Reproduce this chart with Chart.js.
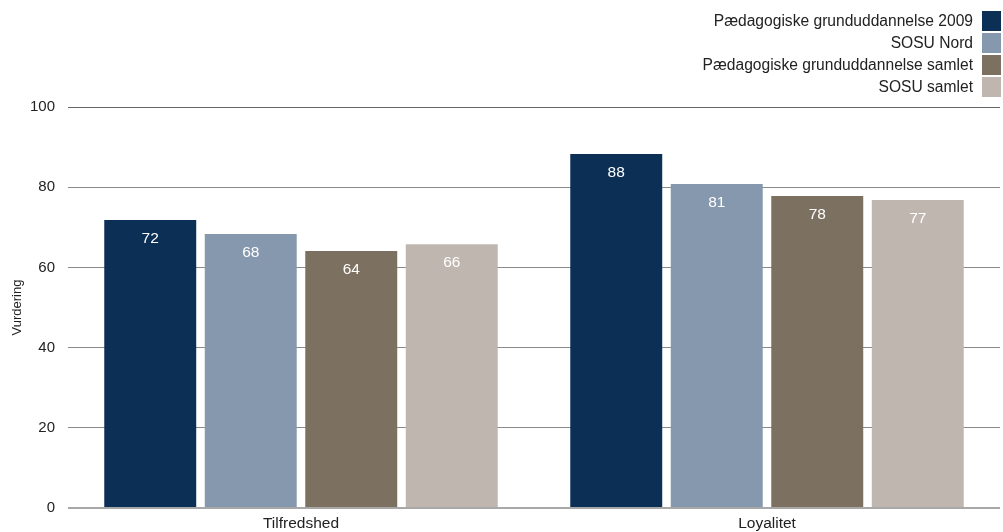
<!DOCTYPE html>
<html><head><meta charset="utf-8">
<script src="https://cdn.jsdelivr.net/npm/chart.js@4.4.1/dist/chart.umd.min.js"></script>
<style>html,body{margin:0;padding:0;background:#fff}#wrap{width:1003px;height:532px}</style>
</head><body><div id="wrap"><canvas id="c" width="1003" height="532"></canvas></div>
<script>
const categories = ['Tilfredshed', 'Loyalitet'];
const seriesNames = ['Pædagogiske grunduddannelse 2009', 'SOSU Nord', 'Pædagogiske grunduddannelse samlet', 'SOSU samlet'];
const pg2009 = [71.8, 88.3];
const sosuNord = [68.3, 80.8];
const pgSamlet = [64.1, 77.8];
const sosuSamlet = [65.8, 76.8];
const yTicks = [0, 20, 40, 60, 80, 100];
const seriesColors = ['#0c2f56', '#8598ad', '#7c7060', '#bfb6b0'];

const FONT = "'Liberation Sans', Arial, sans-serif";
const seriesValues = [pg2009, sosuNord, pgSamlet, sosuSamlet];

const legendPlugin = {
  id: 'rightLegend',
  afterDraw(chart) {
    const ctx = chart.ctx;
    ctx.save();
    ctx.font = '15.6px ' + FONT;
    ctx.textAlign = 'right';
    ctx.textBaseline = 'middle';
    chart.data.datasets.forEach((ds, i) => {
      const top = 11 + i * 22;
      ctx.fillStyle = ds.backgroundColor;
      ctx.fillRect(982, top, 19, 20);
      ctx.fillStyle = '#222';
      ctx.fillText(ds.label, 973, top + 11);
    });
    ctx.restore();
  }
};

const valueLabels = {
  id: 'valueLabels',
  afterDatasetsDraw(chart) {
    const ctx = chart.ctx;
    ctx.save();
    ctx.font = '15.5px ' + FONT;
    ctx.fillStyle = '#fff';
    ctx.textAlign = 'center';
    ctx.textBaseline = 'middle';
    chart.data.datasets.forEach((ds, i) => {
      chart.getDatasetMeta(i).data.forEach((bar, j) => {
        ctx.fillText(String(Math.round(ds.data[j])), bar.x, bar.y + 19);
      });
    });
    ctx.restore();
  }
};

new Chart(document.getElementById('c'), {
  type: 'bar',
  data: {
    labels: categories,
    datasets: seriesNames.map((n, i) => ({
      label: n,
      data: seriesValues[i],
      backgroundColor: seriesColors[i],
      borderWidth: 0,
      categoryPercentage: 0.8627,
      barPercentage: 0.915
    }))
  },
  options: {
    responsive: false,
    animation: false,
    layout: { padding: { top: 107, right: 3, left: 0, bottom: 0 } },
    plugins: { legend: { display: false }, tooltip: { enabled: false } },
    scales: {
      x: {
        grid: { display: false, drawTicks: false },
        border: { display: false },
        ticks: { padding: 6, color: '#222', font: { family: FONT, size: 15.5 } },
        afterFit: s => { s.height = 24; }
      },
      y: {
        min: 0, max: 100,
        afterBuildTicks: s => { s.ticks = yTicks.map(v => ({ value: v })); },
        border: { display: false },
        grid: {
          drawTicks: false,
          color: c => c.tick && c.tick.value === 0 ? '#a8a8a8' : (c.tick && c.tick.value === 100 ? '#666' : '#8a8a8a'),
          lineWidth: c => c.tick && c.tick.value === 0 ? 2 : 1
        },
        ticks: { padding: 13, color: '#222', font: { family: FONT, size: 15 } },
        title: { display: true, text: 'Vurdering', color: '#222', font: { family: FONT, size: 13 }, padding: { top: 10, bottom: 0 } },
        afterFit: s => { s.width = 68; }
      }
    }
  },
  plugins: [legendPlugin, valueLabels]
});
</script></body></html>
